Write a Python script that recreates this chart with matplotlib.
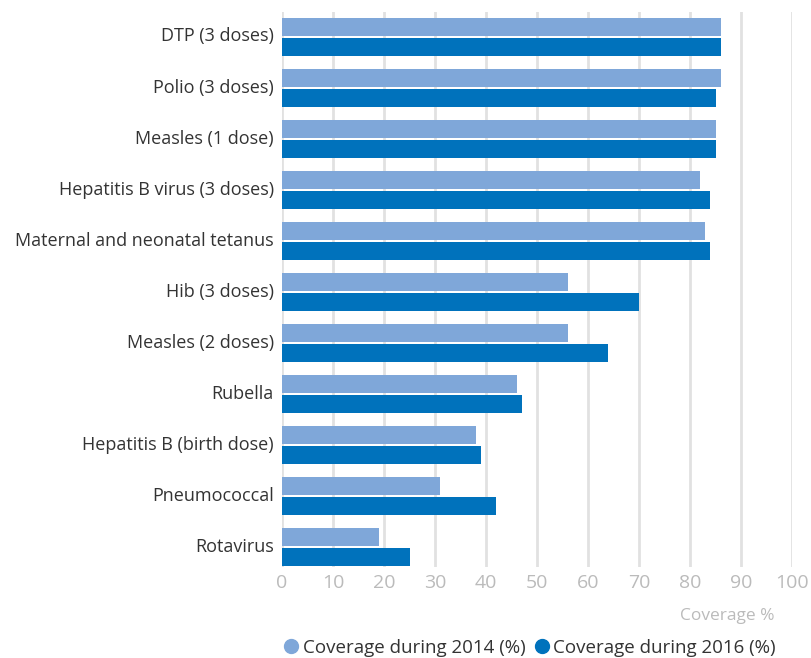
import matplotlib.pyplot as plt
import matplotlib.transforms as mtransforms
import numpy as np

categories = [
    "DTP (3 doses)",
    "Polio (3 doses)",
    "Measles (1 dose)",
    "Hepatitis B virus (3 doses)",
    "Maternal and neonatal tetanus",
    "Hib (3 doses)",
    "Measles (2 doses)",
    "Rubella",
    "Hepatitis B (birth dose)",
    "Pneumococcal",
    "Rotavirus",
]
coverage_2014 = [86, 86, 85, 82, 83, 56, 56, 46, 38, 31, 19]
coverage_2016 = [86, 85, 85, 84, 84, 70, 64, 47, 39, 42, 25]
x_ticks = [0, 10, 20, 30, 40, 50, 60, 70, 80, 90, 100]

LIGHT = "#7fa7d9"
DARK = "#0072bc"
GRID = "#e1e1e1"
TICK = "#bbbbbb"
TEXT = "#333333"

plt.rcParams["font.family"] = ["Open Sans", "DejaVu Sans"]

fig = plt.figure(figsize=(8.11, 6.58), dpi=100)
ax = fig.add_axes([282 / 811, 1 - 567 / 658, (792 - 282) / 811, (567 - 12) / 658])

y = np.arange(len(categories))
h = 0.355
ax.barh(y - 0.197, coverage_2014, height=h, color=LIGHT, zorder=3)
ax.barh(y + 0.197, coverage_2016, height=h, color=DARK, zorder=3)

ax.set_xlim(0, 100)
ax.set_ylim(10.39, -0.49)
ax.set_xticks(x_ticks)
ax.set_xticklabels([str(t) for t in x_ticks], color=TICK, fontsize=14)
ax.set_yticks(y)
ax.set_yticklabels(categories, color=TEXT, fontsize=13)
ax.tick_params(axis="x", length=0, pad=5)
ax.tick_params(axis="y", length=0, pad=6)

# nudge category labels up a little
shift = mtransforms.ScaledTranslation(0, 2.5 / 100, fig.dpi_scale_trans)
for lbl in ax.get_yticklabels():
    lbl.set_transform(lbl.get_transform() + shift)

for t in x_ticks:
    ax.axvline(t, color=GRID, lw=2, zorder=1)
for s in ax.spines.values():
    s.set_visible(False)

fig.text(775 / 811, 1 - 616 / 658, "Coverage %", color=TICK, fontsize=12.5,
         ha="right", va="center")

handles = [
    plt.Line2D([], [], marker="o", ls="", color=LIGHT, markersize=10),
    plt.Line2D([], [], marker="o", ls="", color=DARK, markersize=10),
]
fig.legend(handles, ["Coverage during 2014 (%)", "Coverage during 2016 (%)"],
           loc="center", bbox_to_anchor=(529 / 811, 1 - 648 / 658), ncol=2,
           frameon=False, fontsize=13.5, handletextpad=0.1, columnspacing=0.4,
           labelcolor=TEXT, handlelength=1.0)

fig.savefig("out.png", dpi=100)
